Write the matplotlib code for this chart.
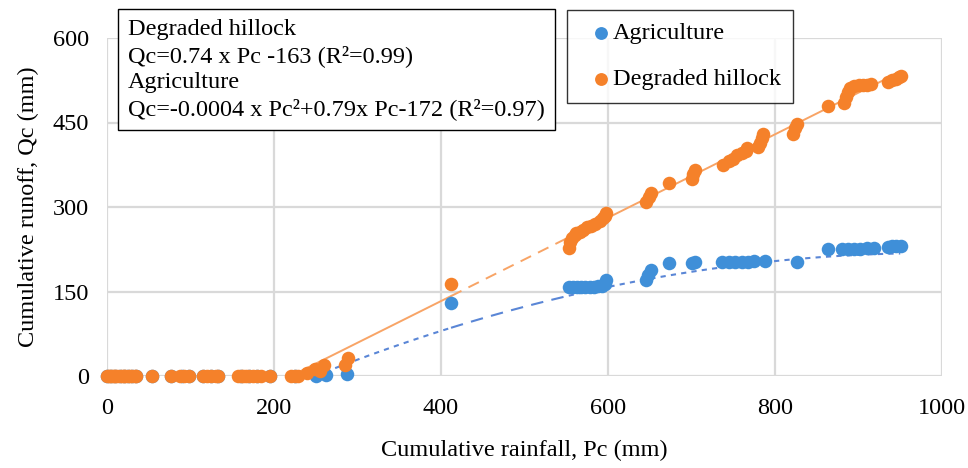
import matplotlib.pyplot as plt
import numpy as np

plt.rcParams['font.family'] = ['Liberation Serif', 'DejaVu Serif']

# ============================================================
#  DATA
# ============================================================

# Degraded hillock: cumulative rainfall Pc (mm) / cumulative runoff Qc (mm)
hill_pc = [0, 2, 4, 6, 8, 10, 12, 15, 18, 20, 22, 25, 28, 30, 33, 35,
           54, 77, 88, 92, 98, 115, 120, 125, 130, 133,
           157, 160, 163, 166, 170, 175, 180, 185, 195,
           220, 225, 229, 240, 249, 255, 260, 285, 289,
           412,
           553, 555, 557, 560, 562, 566, 570, 575, 580, 585, 590, 594, 597, 598,
           646, 649, 652, 673, 700, 702, 704,
           738, 745, 750, 755, 760, 765, 767, 780, 782, 784, 786,
           822, 824, 826, 863,
           883, 885, 887, 890, 895, 900, 905, 910, 915,
           935, 940, 945, 948, 951]
hill_qc = [0, 0, 0, 0, 0, 0, 0, 0, 0, 0, 0, 0, 0, 0, 0, 0,
           0, 0, 0, 0, 0, 0, 0, 0, 0, 0,
           0, 0, 0, 0, 0, 0, 0, 0, 0,
           0, 0, 0, 5, 12, 9, 20, 20, 32,
           163,
           228, 238, 245, 250, 253, 256, 260, 264, 267, 270, 275, 280, 284, 290,
           308, 318, 325, 342, 350, 358, 365,
           374, 382, 386, 392, 396, 400, 404, 406, 414, 422, 430,
           430, 440, 448, 480,
           485, 495, 505, 512, 515, 516, 516, 517, 518,
           522, 525, 528, 530, 532]

# Agriculture
agri_pc = [0, 5, 10, 15, 20, 25, 30, 35, 54, 77, 90, 98, 115, 125, 133,
           160, 170, 180, 195, 225, 250, 262, 287,
           412,
           553, 558, 563, 568, 573, 578, 583, 588, 593, 597, 598,
           645, 648, 651, 673, 700, 704,
           737, 745, 752, 760, 768, 775, 788, 826,
           863, 880, 888, 895, 902, 910, 919,
           935, 940, 945, 951]
agri_qc = [0, 0, 0, 0, 0, 0, 0, 0, 0, 0, 0, 0, 0, 0, 0,
           0, 0, 0, 0, 0, 0, 1, 4,
           130,
           158, 158, 158, 158, 158, 158, 158, 159, 160, 163, 171,
           170, 180, 189, 201, 200, 203,
           202, 203, 203, 203, 203, 204, 204, 203,
           226, 226, 226, 226, 226, 227, 227,
           229, 230, 230, 231]

# Trendline coefficients
hill_fit = [0.74, -163]              # Qc = 0.74 Pc - 163
agri_fit = [-0.0004, 0.79, -172]     # Qc = -0.0004 Pc^2 + 0.79 Pc - 172

x_ticks = [0, 200, 400, 600, 800, 1000]
y_ticks = [0, 150, 300, 450, 600]

# ============================================================
#  FIGURE
# ============================================================

blue = "#3f8fd8"
orange = "#f5812a"
fs = 17.5

fig = plt.figure(figsize=(9.68, 4.68), dpi=100)
ax = fig.add_axes([107 / 968, 1 - 376 / 468, 835 / 968, 338 / 468])

ax.set_xlim(0, 1000)
ax.set_ylim(0, 600)
ax.set_xticks(x_ticks)
ax.set_yticks(y_ticks)
ax.grid(True, color="#d9d9d9", linewidth=1.6)
ax.set_axisbelow(True)
for s in ax.spines.values():
    s.set_visible(False)
ax.tick_params(length=0, labelsize=fs)
ax.tick_params(axis="x", pad=16)
ax.tick_params(axis="y", pad=13)

# trendlines (solid / dashed gap segment like the original)
def trend(coefs, start, gap, end, ls_main, ls_gap, color, lw):
    segs = [(start, gap[0], ls_main), (gap[0], gap[1], ls_gap), (gap[1], end, ls_main)]
    for a, b, ls in segs:
        xx = np.linspace(a, b, 100)
        ax.plot(xx, np.polyval(coefs, xx), color=color, lw=lw, linestyle=ls, zorder=2)

trend(hill_fit, 220, (412, 553), 950, "-", (0, (6, 4)), "#f8a466", 1.4)
trend(agri_fit, 250, (412, 553), 950, (0, (2.5, 2.5)), (0, (6, 4)), "#5a86d6", 1.5)

ax.scatter(agri_pc, agri_qc, s=95, color=blue, label="Agriculture",
           clip_on=False, zorder=3, linewidths=0)
ax.scatter(hill_pc, hill_qc, s=95, color=orange, label="Degraded hillock",
           clip_on=False, zorder=4, linewidths=0)

ax.set_xlabel("Cumulative rainfall, Pc (mm)", fontsize=fs, labelpad=15)
ax.set_ylabel("Cumulative runoff, Qc (mm)", fontsize=fs, labelpad=10)

leg = fig.legend(loc="upper left", bbox_to_anchor=(567 / 968, 1 - 10 / 468),
                 fontsize=fs, frameon=True, fancybox=False, edgecolor="black",
                 handletextpad=-0.4, markerscale=0.95, labelspacing=1.0,
                 borderpad=0.5, handlelength=1.8, borderaxespad=0)
leg.get_frame().set_linewidth(1.0)

eq_text = ("Degraded hillock\n"
           "Qc=0.74 x Pc -163 (R²=0.99)\n"
           "Agriculture\n"
           "Qc=-0.0004 x Pc²+0.79x Pc-172 (R²=0.97)")
fig.text(128 / 968, 1 - 19 / 468, eq_text, fontsize=fs, va="top", ha="left",
         linespacing=1.3,
         bbox=dict(boxstyle="square,pad=0.4", facecolor="white",
                   edgecolor="black", linewidth=1.0))

plt.savefig("out.png", dpi=100)
